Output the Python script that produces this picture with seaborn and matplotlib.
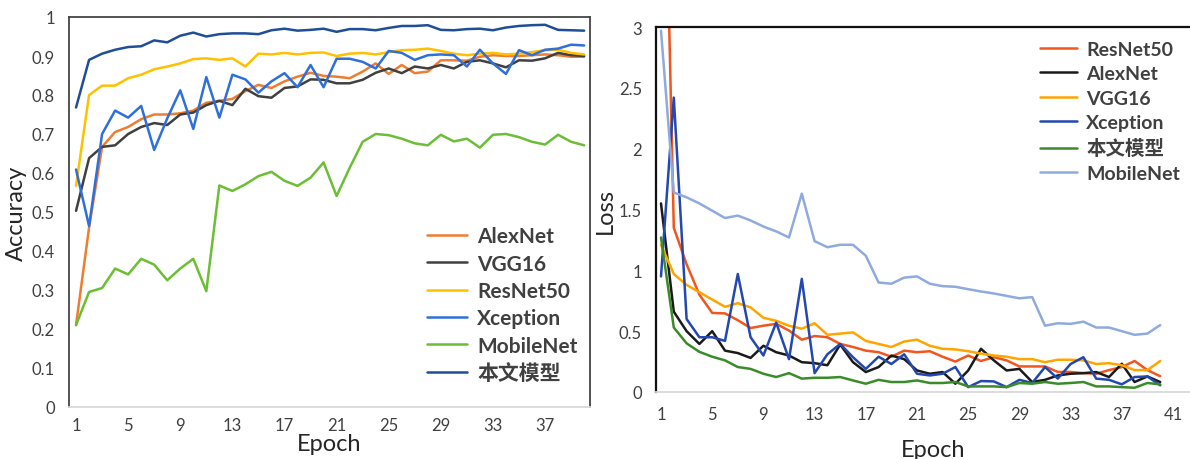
import numpy as np
import pandas as pd
import matplotlib
matplotlib.use("Agg")
import matplotlib.pyplot as plt
import seaborn as sns

# epochs
epochs = list(range(1, 41))

# accuracy curves (left panel)
acc_alexnet = [0.21, 0.46, 0.667, 0.705, 0.718, 0.738, 0.75, 0.75, 0.753, 0.76,
               0.78, 0.785, 0.79, 0.81, 0.826, 0.818, 0.835, 0.847, 0.857, 0.849,
               0.847, 0.843, 0.86, 0.881, 0.854, 0.877, 0.856, 0.86, 0.889, 0.889,
               0.888, 0.898, 0.902, 0.90, 0.90, 0.902, 0.904, 0.902, 0.898, 0.898]
acc_vgg16 = [0.503, 0.638, 0.667, 0.671, 0.70, 0.718, 0.728, 0.723, 0.75, 0.755,
             0.774, 0.785, 0.774, 0.816, 0.797, 0.793, 0.818, 0.822, 0.84, 0.839,
             0.83, 0.83, 0.839, 0.857, 0.868, 0.856, 0.873, 0.868, 0.877, 0.868,
             0.885, 0.889, 0.881, 0.871, 0.889, 0.888, 0.894, 0.908, 0.902, 0.90]
acc_resnet50 = [0.567, 0.80, 0.824, 0.824, 0.843, 0.852, 0.866, 0.873, 0.881, 0.892,
                0.894, 0.89, 0.894, 0.873, 0.906, 0.904, 0.908, 0.904, 0.908, 0.909,
                0.90, 0.906, 0.908, 0.904, 0.91, 0.915, 0.916, 0.919, 0.913, 0.906,
                0.902, 0.906, 0.908, 0.904, 0.906, 0.91, 0.915, 0.916, 0.908, 0.904]
acc_xception = [0.609, 0.464, 0.70, 0.76, 0.742, 0.772, 0.659, 0.74, 0.812, 0.713,
                0.846, 0.742, 0.852, 0.84, 0.806, 0.835, 0.856, 0.82, 0.877, 0.82,
                0.893, 0.893, 0.885, 0.868, 0.913, 0.908, 0.89, 0.902, 0.904, 0.902,
                0.873, 0.916, 0.881, 0.854, 0.915, 0.902, 0.916, 0.919, 0.929, 0.927]
acc_mobilenet = [0.21, 0.295, 0.305, 0.355, 0.34, 0.38, 0.365, 0.325, 0.355, 0.38,
                 0.297, 0.568, 0.554, 0.571, 0.592, 0.603, 0.58, 0.567, 0.588, 0.627,
                 0.541, 0.613, 0.68, 0.70, 0.697, 0.688, 0.676, 0.671, 0.698, 0.681,
                 0.688, 0.665, 0.698, 0.70, 0.692, 0.68, 0.673, 0.698, 0.68, 0.671]
acc_ours = [0.768, 0.89, 0.906, 0.916, 0.923, 0.925, 0.94, 0.935, 0.952, 0.96,
            0.95, 0.956, 0.958, 0.958, 0.956, 0.966, 0.97, 0.965, 0.967, 0.97,
            0.962, 0.969, 0.969, 0.966, 0.972, 0.977, 0.977, 0.979, 0.967, 0.966,
            0.969, 0.97, 0.966, 0.973, 0.977, 0.979, 0.98, 0.967, 0.966, 0.965]

# loss curves (right panel); ResNet50 epoch 1 lies above the 3.0 limit
loss_resnet50 = [6.0, 1.35, 1.05, 0.80, 0.65, 0.646, 0.59, 0.526, 0.545, 0.56,
                 0.505, 0.43, 0.46, 0.45, 0.395, 0.37, 0.34, 0.327, 0.29, 0.34,
                 0.327, 0.335, 0.29, 0.25, 0.30, 0.255, 0.286, 0.26, 0.21, 0.21,
                 0.21, 0.165, 0.165, 0.155, 0.15, 0.18, 0.205, 0.255, 0.18, 0.13]
loss_alexnet = [1.55, 0.66, 0.50, 0.395, 0.50, 0.34, 0.32, 0.28, 0.38, 0.327,
                0.30, 0.245, 0.237, 0.22, 0.39, 0.245, 0.164, 0.205, 0.30, 0.27,
                0.177, 0.15, 0.164, 0.068, 0.177, 0.355, 0.26, 0.177, 0.19, 0.082,
                0.10, 0.136, 0.15, 0.155, 0.164, 0.123, 0.232, 0.082, 0.128, 0.082]
loss_vgg16 = [1.21, 0.97, 0.88, 0.82, 0.76, 0.70, 0.73, 0.695, 0.61, 0.585,
              0.545, 0.52, 0.565, 0.47, 0.48, 0.49, 0.42, 0.395, 0.37, 0.415,
              0.43, 0.38, 0.355, 0.35, 0.335, 0.315, 0.30, 0.29, 0.27, 0.27,
              0.245, 0.265, 0.265, 0.26, 0.23, 0.237, 0.22, 0.18, 0.18, 0.255]
loss_xception = [0.95, 2.42, 0.60, 0.45, 0.45, 0.42, 0.97, 0.45, 0.30, 0.57,
                 0.27, 0.93, 0.155, 0.31, 0.395, 0.286, 0.19, 0.29, 0.23, 0.31,
                 0.15, 0.136, 0.15, 0.205, 0.04, 0.09, 0.087, 0.04, 0.10, 0.074,
                 0.205, 0.11, 0.23, 0.286, 0.11, 0.10, 0.063, 0.123, 0.128, 0.055]
loss_ours = [1.27, 0.53, 0.40, 0.33, 0.29, 0.26, 0.205, 0.19, 0.15, 0.123,
             0.155, 0.11, 0.117, 0.117, 0.123, 0.095, 0.068, 0.10, 0.082, 0.082,
             0.095, 0.074, 0.074, 0.082, 0.046, 0.046, 0.046, 0.04, 0.074, 0.068,
             0.082, 0.068, 0.074, 0.082, 0.046, 0.046, 0.04, 0.035, 0.074, 0.063]
loss_mobilenet = [2.97, 1.64, 1.60, 1.55, 1.49, 1.43, 1.45, 1.41, 1.36, 1.32,
                  1.27, 1.63, 1.24, 1.19, 1.21, 1.21, 1.12, 0.90, 0.89, 0.94,
                  0.95, 0.89, 0.87, 0.865, 0.845, 0.826, 0.81, 0.79, 0.77, 0.78,
                  0.545, 0.565, 0.56, 0.578, 0.53, 0.53, 0.50, 0.47, 0.48, 0.55]

acc_names = ["AlexNet", "VGG16", "ResNet50", "Xception", "MobileNet", "本文模型"]
acc_values = [acc_alexnet, acc_vgg16, acc_resnet50, acc_xception, acc_mobilenet, acc_ours]
acc_colors = ["#ED7D31", "#404040", "#FFC000", "#2F6FDB", "#6BBE35", "#1F4E99"]

loss_names = ["ResNet50", "AlexNet", "VGG16", "Xception", "本文模型", "MobileNet"]
loss_values = [loss_resnet50, loss_alexnet, loss_vgg16, loss_xception, loss_ours, loss_mobilenet]
loss_colors = ["#F0561E", "#1A1A1A", "#FFA500", "#2448B0", "#3A8C2A", "#8FAADC"]

acc_df = pd.DataFrame([(e, v, n) for n, vals in zip(acc_names, acc_values)
                       for e, v in zip(epochs, vals)], columns=["Epoch", "value", "model"])
loss_df = pd.DataFrame([(e, v, n) for n, vals in zip(loss_names, loss_values)
                        for e, v in zip(epochs, vals)], columns=["Epoch", "value", "model"])

sns.set_theme(style="white")
plt.rcParams["font.family"] = ["Lato", "Noto Sans CJK SC", "DejaVu Sans"]

fig = plt.figure(figsize=(11.9, 4.6), dpi=100)
W, H = 1190, 460
ax1 = fig.add_axes([69 / W, (H - 408) / H, (590 - 69) / W, (408 - 18) / H])
ax2 = fig.add_axes([656 / W, (H - 393) / H, (1210 - 656) / W, (393 - 28) / H])

# left: accuracy
sns.lineplot(data=acc_df, x="Epoch", y="value", hue="model", hue_order=acc_names,
             palette=dict(zip(acc_names, acc_colors)), linewidth=1.8, ax=ax1)
ax1.set_xlim(0.46, 40.45)
ax1.set_ylim(0, 1)
ax1.set_xticks(range(1, 41, 4))
ax1.set_yticks(np.arange(0, 1.01, 0.1))
ax1.set_yticklabels(["0", "0.1", "0.2", "0.3", "0.4", "0.5", "0.6", "0.7", "0.8", "0.9", "1"])
ax1.set_xlabel("Epoch", fontsize=17, labelpad=0)
ax1.set_ylabel("Accuracy", fontsize=17, labelpad=4)
for s in ["top", "left", "right"]:
    ax1.spines[s].set_color("#444444")
    ax1.spines[s].set_linewidth(1.3)
ax1.spines["bottom"].set_color("#D9D9D9")
ax1.spines["bottom"].set_linewidth(1.3)
ax1.tick_params(axis="y", length=0, labelsize=12, colors="#404040", pad=10)
ax1.tick_params(axis="x", length=0, labelsize=12, colors="#404040", pad=7)
leg1 = ax1.legend(loc="lower right", bbox_to_anchor=(1.0, 0.03), frameon=False,
                  prop={"size": 15, "weight": "bold"}, handlelength=1.9,
                  handletextpad=0.5, labelspacing=0.35, borderaxespad=0.2)
for t in leg1.get_texts():
    t.set_color("#404040")

# right: loss
sns.lineplot(data=loss_df, x="Epoch", y="value", hue="model", hue_order=loss_names,
             palette=dict(zip(loss_names, loss_colors)), linewidth=1.8, ax=ax2)
ax2.set_xlim(0.61, 1 + (1210 - 661) / 12.8)
ax2.set_ylim(0, 3)
ax2.set_xticks(range(1, 42, 4))
ax2.set_yticks(np.arange(0, 3.01, 0.5))
ax2.set_yticklabels(["0", "0.5", "1", "1.5", "2", "2.5", "3"])
ax2.set_xlabel("Epoch", fontsize=17, labelpad=12)
ax2.set_ylabel("Loss", fontsize=17, labelpad=2)
ax2.spines["right"].set_visible(False)
for s in ["top", "left"]:
    ax2.spines[s].set_color("#111111")
    ax2.spines[s].set_linewidth(1.6)
ax2.spines["bottom"].set_color("#D9D9D9")
ax2.spines["bottom"].set_linewidth(1.3)
ax2.tick_params(axis="both", length=0, labelsize=12, colors="#404040", pad=10)
leg2 = ax2.legend(loc="upper left", bbox_to_anchor=(1032 / W, 1 - 34 / H),
                  bbox_transform=fig.transFigure, frameon=False,
                  prop={"size": 14, "weight": "bold"}, handlelength=1.9,
                  handletextpad=0.5, labelspacing=0.38, borderaxespad=0)
for t in leg2.get_texts():
    t.set_color("#404040")

fig.savefig("out.png", dpi=100)
